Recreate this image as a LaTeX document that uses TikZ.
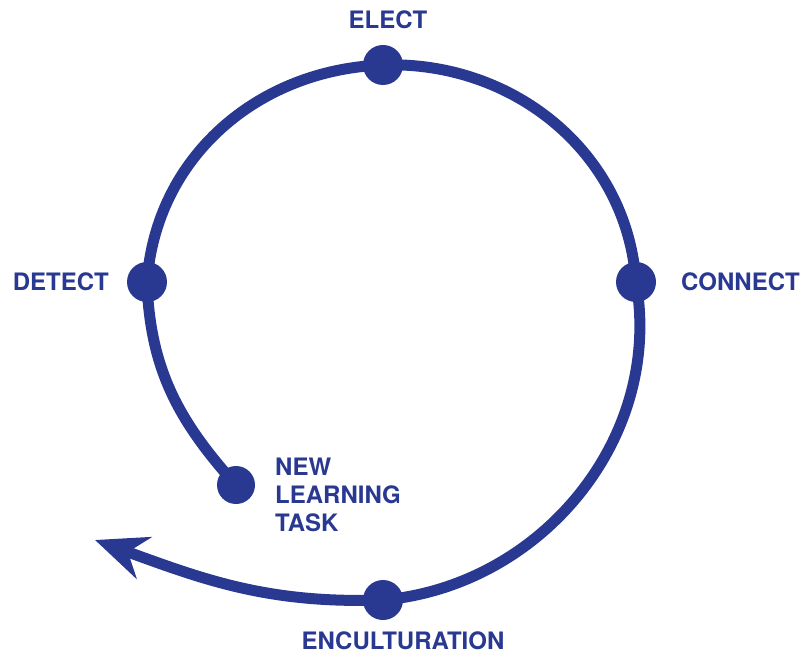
\documentclass[tikz,border=0pt]{standalone}
\usepackage{fontspec}
\usepackage{xcolor}
\usetikzlibrary{positioning,arrows.meta,calc,backgrounds}
\newfontfamily\stagefont{TeX Gyre Heros}
\definecolor{spiralblue}{RGB}{41,56,145}

\begin{document}
\begin{tikzpicture}[x=1pt,y=1pt,
        spiral/.style={draw=spiralblue, line width=11pt},
        stage/.style={circle, fill=spiralblue, minimum size=40pt, inner sep=0pt},
        stagetext/.style={text=spiralblue, inner sep=0pt,
            font=\stagefont\bfseries\fontsize{24}{28}\selectfont}]
        \useasboundingbox (0,0) rectangle (806,657);
        % Stations along the spiral
        \coordinate (tip) at (95,117);
        \node[stage, minimum size=38pt] (task) at (236,172) {};
        \node[stage] (detect) at (147,375) {};
        \node[stage] (elect) at (383,592) {};
        \node[stage] (connect) at (636,375) {};
        \node[stage] (encult) at (383,57) {};
        % The spiral itself, behind the dots, ending in the arrow
        \begin{pgfonlayer}{background}
        \draw[spiral, -{Stealth[length=52pt, width=44pt, inset=17pt]}]
            (task.center) to[out=132, in=-88] (detect.center)
            to[out=86, in=182] (elect.center)
            to[out=2, in=94] (connect.center)
            to[out=-80, in=5] (encult.center)
            to[out=182, in=-20] (tip);
        \end{pgfonlayer}
        % Labels
        \node[stagetext] (electlabel) at (388,637) {ELECT};
        \node[stagetext, anchor=east] (detectlabel) at (109,375) {DETECT};
        \node[stagetext, anchor=west] (connectlabel) at (681,375) {CONNECT};
        \node[stagetext, anchor=north west, align=left] (tasklabel) at (275,199)
            {NEW\\LEARNING\\TASK};
        \node[stagetext] (encultlabel) at (403,16) {ENCULTURATION};
    \end{tikzpicture}
\end{document}
